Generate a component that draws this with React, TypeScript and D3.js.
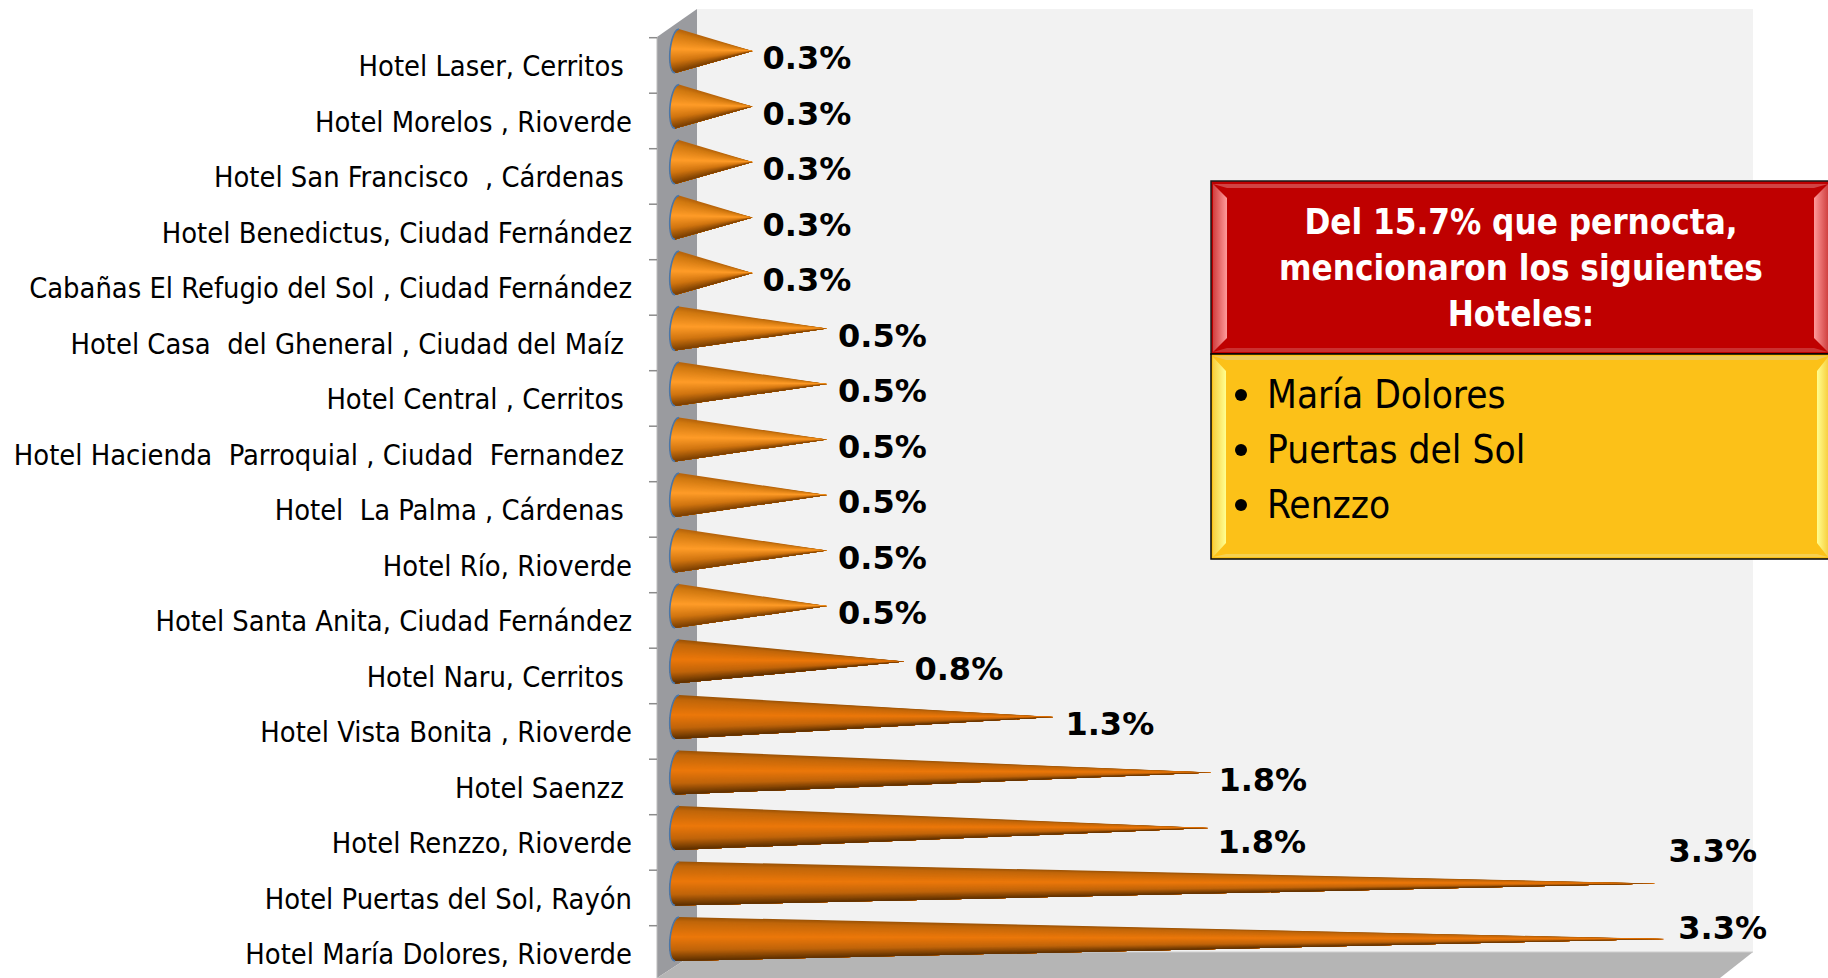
import React from "react";
import * as d3 from "d3";

const categories = [
  "Hotel Laser, Cerritos ",
  "Hotel Morelos , Rioverde",
  "Hotel San Francisco  , Cárdenas ",
  "Hotel Benedictus, Ciudad Fernández",
  "Cabañas El Refugio del Sol , Ciudad Fernández",
  "Hotel Casa  del Gheneral , Ciudad del Maíz ",
  "Hotel Central , Cerritos ",
  "Hotel Hacienda  Parroquial , Ciudad  Fernandez ",
  "Hotel  La Palma , Cárdenas ",
  "Hotel Río, Rioverde",
  "Hotel Santa Anita, Ciudad Fernández",
  "Hotel Naru, Cerritos ",
  "Hotel Vista Bonita , Rioverde",
  "Hotel Saenzz ",
  "Hotel Renzzo, Rioverde",
  "Hotel Puertas del Sol, Rayón",
  "Hotel María Dolores, Rioverde",
];
const values = [0.27, 0.27, 0.27, 0.27, 0.27, 0.52, 0.52, 0.52, 0.52, 0.52, 0.52, 0.78, 1.28, 1.81, 1.8, 3.3, 3.33];
const valueLabels = ["0.3%", "0.3%", "0.3%", "0.3%", "0.3%", "0.5%", "0.5%", "0.5%", "0.5%", "0.5%", "0.5%", "0.8%", "1.3%", "1.8%", "1.8%", "3.3%", "3.3%"];
const labelNudgeX = [10, 10, 10, 10, 10, 11, 11, 11, 11, 11, 11, 10, 12, 7, 9, 13, 14];
const labelNudgeY = [18, 18, 18, 18, 18, 18, 18, 18, 18, 18, 18, 18, 18, 18, 25, -22, 0];
const titleLines = ["Del 15.7% que pernocta,", "mencionaron los siguientes", "Hoteles:"];
const listItems = ["María Dolores", "Puertas del Sol", "Renzzo"];

const W = 1828, H = 978;
const x = d3.scaleLinear().domain([0, 1]).range([672, 970]);
const y = d3.scaleLinear().domain([0, 16]).range([51, 939]);
const R = 22;
const STRIPS = 44;

const shade = (small: boolean) =>
  d3.scaleLinear<string>()
    .domain([0, 0.1, 0.45, 0.75, 1])
    .range(small ? ["#b5620c", "#d07810", "#ff9c28", "#d07410", "#7a3f02"] : ["#9a5206", "#c0660a", "#ec780a", "#c0640a", "#5c2f00"]);

function Cone({ i }: { i: number }) {
  const cy = y(i);
  const tip = x(values[i]);
  const color = shade(values[i] < 0.6);
  const base = (u: number): [number, number] => {
    const v = u * 2 - 1;
    return [677 - 2 * v - 7 * Math.sqrt(1 - v * v), cy + v * R];
  };
  const us = d3.range(STRIPS + 1).map((k) => k / STRIPS);
  const arc = d3.line()(us.map(base)) as string;
  return (
    <g>
      {d3.range(STRIPS).map((k) => {
        const pts = us.slice(k).map(base);
        return <polygon key={k} points={`${pts.join(" ")} ${tip},${cy}`} fill={color((k + 0.5) / STRIPS)} />;
      })}
      <path d={arc} fill="none" stroke="#4a76a8" strokeWidth={1.6} />
    </g>
  );
}

export default function App() {
  return (
    <svg width={W} height={H} viewBox={`0 0 ${W} ${H}`} style={{ position: "absolute", left: 0, top: 0, display: "block" }}>
      <defs>
        <linearGradient id="redL" x1="0" x2="1" y1="0" y2="0"><stop offset="0" stopColor="#d04040" /><stop offset="1" stopColor="#ff9a9a" /></linearGradient>
        <linearGradient id="redR" x1="1" x2="0" y1="0" y2="0"><stop offset="0" stopColor="#d04040" /><stop offset="1" stopColor="#ff9a9a" /></linearGradient>
        <linearGradient id="yelL" x1="0" x2="1" y1="0" y2="0"><stop offset="0" stopColor="#f8d040" /><stop offset="1" stopColor="#ffff90" /></linearGradient>
        <linearGradient id="yelR" x1="1" x2="0" y1="0" y2="0"><stop offset="0" stopColor="#f8d040" /><stop offset="1" stopColor="#ffff90" /></linearGradient>
      </defs>
      <rect width={W} height={H} fill="#fff" />
      <rect x={697} y={9} width={1056} height={943} fill="#f2f2f2" />
      <polygon points="657,37 697,9 697,952 657,978" fill="#9a9b9f" />
      <polygon points="657,978 697,952 1753,952 1720,978" fill="#b5b5b5" />
      <line x1={697} x2={1753} y1={952} y2={952} stroke="#cfcfcf" strokeWidth={1} />
      <line x1={657} x2={657} y1={37} y2={978} stroke="#bdbdbd" strokeWidth={1} />
      {d3.range(17).map((i) => (
        <line key={i} x1={649} x2={657} y1={y(i) - 13.3} y2={y(i) - 13.3} stroke="#8c8c8c" strokeWidth={1.5} />
      ))}
      {categories.map((c, i) => (
        <text key={i} x={632} y={y(i) + 25.2} textAnchor="end" fontFamily="'DejaVu Sans Condensed', 'DejaVu Sans'" fontSize={28.8} fill="#000" style={{ whiteSpace: "pre" }}>{c}</text>
      ))}
      {values.map((_, i) => <Cone key={i} i={i} />)}
      {valueLabels.map((l, i) => (
        <text key={i} x={x(values[i]) + labelNudgeX[i]} y={y(i) + labelNudgeY[i]} fontFamily="'DejaVu Sans'" fontWeight="bold" fontSize={32} fill="#000">{l}</text>
      ))}
      <rect x={1211} y={181} width={640} height={173} fill="#bf0000" stroke="#1a1a1a" strokeWidth={1.5} />
      <polygon points="1213,184 1227,198 1227,338 1213,352" fill="url(#redL)" />
      <polygon points="1828,184 1814,198 1814,338 1828,352" fill="url(#redR)" />
      <polygon points="1213,184 1828,184 1814,188 1227,188" fill="#d86060" opacity={0.7} />
      <polygon points="1213,352 1828,352 1814,348 1227,348" fill="#d86060" opacity={0.5} />
      <rect x={1211} y={354} width={640} height={205} fill="#fcc118" stroke="#000" strokeWidth={1.5} />
      <polygon points="1213,357 1226,371 1226,543 1213,557" fill="url(#yelL)" />
      <polygon points="1828,357 1817,371 1817,543 1828,557" fill="url(#yelR)" />
      <polygon points="1213,356 1828,356 1817,360 1226,360" fill="#ecc85c" />
      <polygon points="1213,557 1828,557 1817,554 1226,554" fill="#f6d050" />
      {titleLines.map((t, i) => (
        <text key={i} x={1521} y={234 + i * 46.2} textAnchor="middle" fontFamily="'DejaVu Sans Condensed', 'DejaVu Sans'" fontWeight="bold" fontSize={34.7} fill="#fff">{t}</text>
      ))}
      {listItems.map((t, i) => (
        <g key={i}>
          <circle cx={1241} cy={395 + i * 55} r={6} fill="#000" />
          <text x={1267} y={408 + i * 55} fontFamily="'DejaVu Sans Condensed', 'DejaVu Sans'" fontSize={38.5} fill="#000">{t}</text>
        </g>
      ))}
    </svg>
  );
}
